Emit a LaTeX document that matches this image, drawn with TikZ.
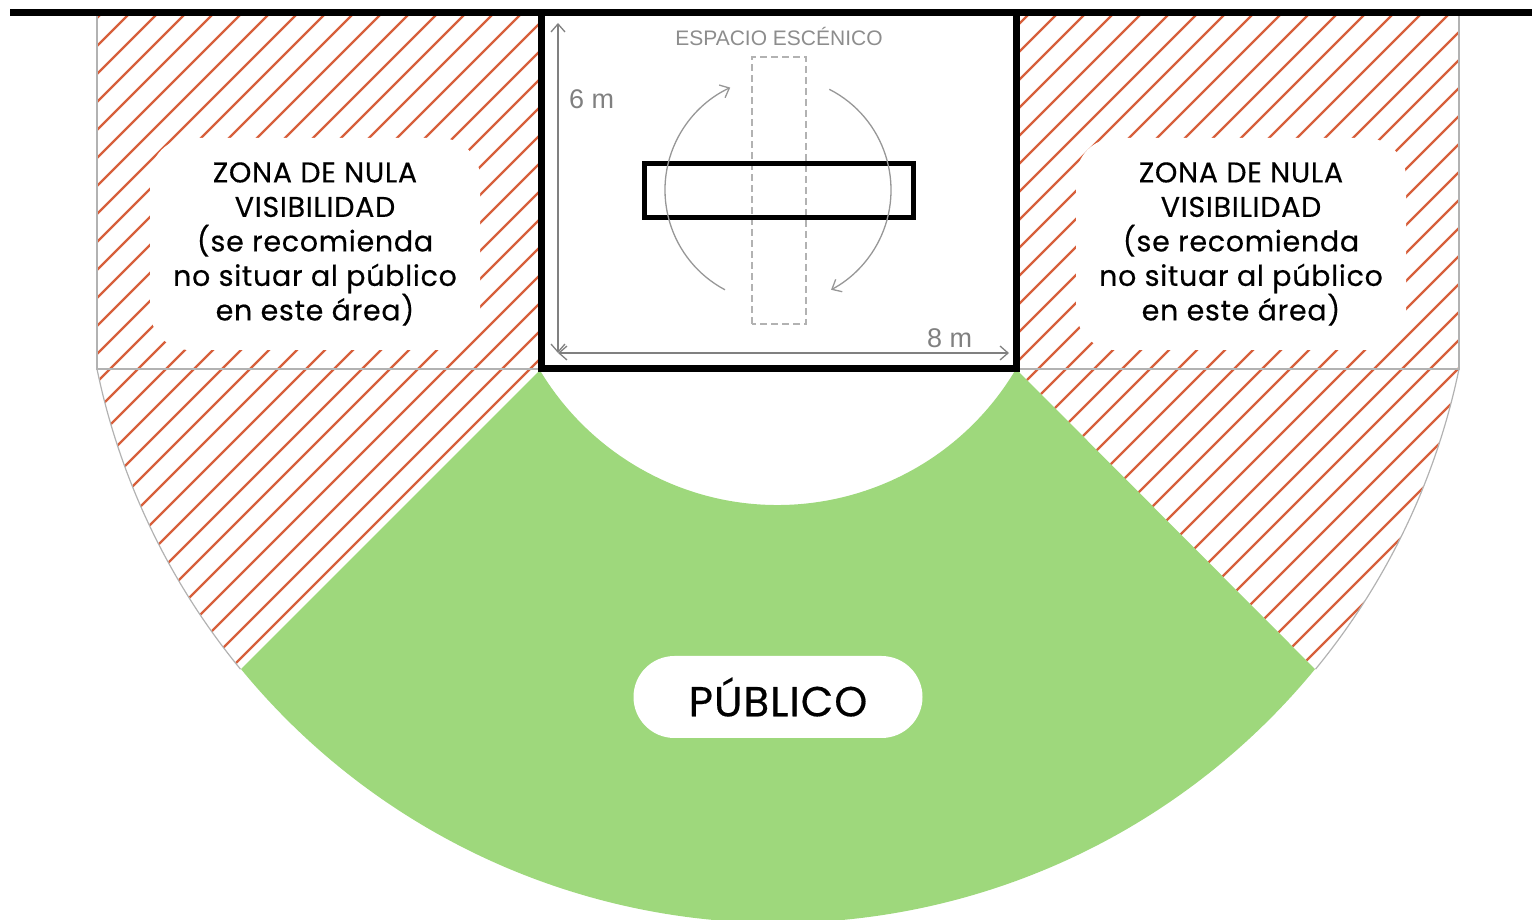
\documentclass[tikz,border=0pt]{standalone}
\usepackage{fontspec}
\setmainfont{Poppins}
\newfontfamily\zonefont{Poppins}[FakeBold=0.4, LetterSpace=2.5]
\newfontfamily\dimfont{Liberation Sans}
\usetikzlibrary{arrows.meta}
\definecolor{hatchred}{RGB}{215,96,60}
\definecolor{publicgreen}{RGB}{158,216,124}
\definecolor{lightgrey}{RGB}{178,178,178}
\definecolor{dimgrey}{RGB}{128,128,128}

\begin{document}
\begin{tikzpicture}[x=1pt, y=1pt,
	hatch/.style={hatchred, line width=2.2pt},
	zonebox/.style={fill=white, rounded corners=40pt, minimum width=330pt, minimum height=212pt, align=center, font=\zonefont\fontsize{28.5}{34.5}\selectfont},
	outline/.style={lightgrey, line width=1.2pt},
	dimline/.style={dimgrey, line width=1.3pt, {Straight Barb[length=8pt,width=14pt]}-{Straight Barb[length=8pt,width=14pt]}},
	turn/.style={lightgrey!85!black, line width=1.3pt, -{Straight Barb[length=8pt,width=14pt]}},
	dimtext/.style={dimgrey, inner sep=0, font=\dimfont\fontsize{27}{30}\selectfont}]
	\useasboundingbox (0,0) rectangle (1532,919);
	\coordinate (C) at (778,691);
	% Hatched zones, public area and outlines:
	\begin{scope}
		\clip (97,906) -- (541,906) -- (541,550) -- ([shift={(219.4:695)}]C) arc[start angle=219.4, end angle=191.7, radius=695] -- cycle;
		\foreach \a in {-1000,-972,...,600} \draw[hatch] (\a,0) -- ++(1000,1000);
	\end{scope}
	\begin{scope}
		\clip (1459,906) -- (1016,906) -- (1016,550) -- ([shift={(320.6:695)}]C) arc[start angle=320.6, end angle=348.3, radius=695] -- cycle;
		\foreach \a in {-100,-72,...,1500} \draw[hatch] (\a,0) -- ++(1000,1000);
	\end{scope}
	\fill[publicgreen] (541,550) -- ([shift={(219.4:695)}]C) arc[start angle=219.4, end angle=320.6, radius=695] -- (1016,550) arc[start angle=-30.6, end angle=-149.4, radius=277] -- cycle;
	\draw[outline] (97,906) -- (97,550) -- (541,550);
	\draw[outline] (97,550) arc[start angle=191.7, end angle=219.4, radius=695];
	\draw[outline] (1459,906) -- (1459,550) -- (1016,550);
	\draw[outline] (1459,550) arc[start angle=-11.7, end angle=-39.4, radius=695];
	\node[zonebox] (ZoneL) at (315,675) {ZONA DE NULA\\VISIBILIDAD\\(se recomienda\\no situar al público\\en este área)};
	\node[zonebox] (ZoneR) at (1241,675) {ZONA DE NULA\\VISIBILIDAD\\(se recomienda\\no situar al público\\en este área)};
	\node[fill=white, rounded corners=41pt, minimum width=289pt, minimum height=82pt, font=\zonefont\fontsize{42}{48}\selectfont] (Publico) at (778,222) {PÚBLICO};
	% Stage:
	\draw[line width=7pt] (10,906) -- (1532,906);
	\draw[line width=7pt] (541,550) rectangle (1016,906);
	\draw[lightgrey, line width=2.5pt, dash pattern=on 7pt off 4pt] (752,595) rectangle (806,862);
	\draw[line width=5pt] (644,701) rectangle (913,755);
	\coordinate (Turn) at (778,729);
	\draw[turn] ([shift={(242:113)}]Turn) arc[start angle=242, end angle=115, radius=113];
	\draw[turn] ([shift={(63:113)}]Turn) arc[start angle=63, end angle=-62, radius=113];
	\coordinate (DimO) at (558,566);
	\draw[dimline] (558,896) -- (DimO);
	\draw[dimline] (DimO) -- (1009,566);
	\node[dimtext, anchor=base west] (Height) at (569,810) {6 m};
	\node[dimtext, anchor=base west] (Width) at (927,571) {8 m};
	\node[dimtext, anchor=base, dimgrey!90, font=\dimfont\fontsize{21}{25}\selectfont] (Stage) at (779,873) {ESPACIO ESCÉNICO};
\end{tikzpicture}
\end{document}
